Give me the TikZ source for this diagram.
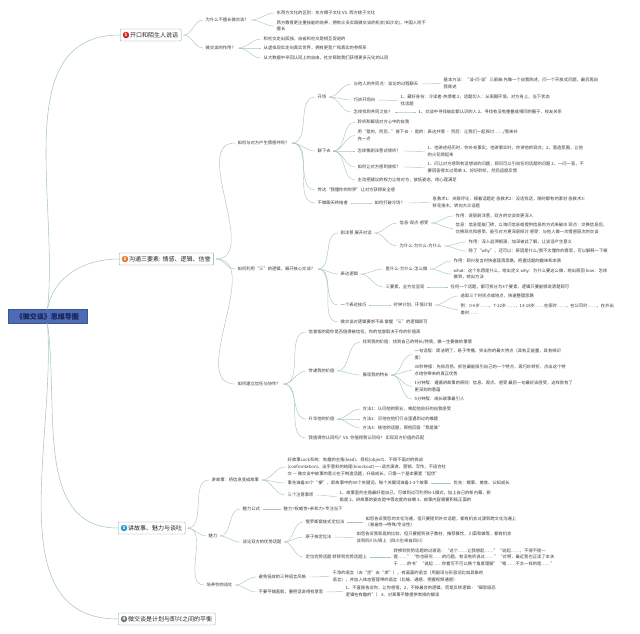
\documentclass[tikz,border=0pt]{standalone}
\usepackage{fontspec}
\setmainfont{Noto Sans CJK SC}
\usepackage{tikz}
\definecolor{rootfill}{RGB}{77,108,181}
\definecolor{roottext}{RGB}{22,34,80}
\definecolor{boxline}{RGB}{118,166,158}
\definecolor{linkc}{RGB}{166,198,196}
\definecolor{txt}{RGB}{55,55,55}
\definecolor{numred}{RGB}{212,38,28}
\definecolor{numorange}{RGB}{234,120,38}
\definecolor{numblue}{RGB}{38,150,214}
\definecolor{numgray}{RGB}{118,118,118}

\begin{document}
\begin{tikzpicture}[x=1pt, y=1pt,
		root/.style={rectangle, draw=rootfill!80!black, fill=rootfill, text=roottext, minimum width=79pt, minimum height=14pt, inner sep=1pt, font=\fontsize{7}{7}\selectfont\bfseries},
		branch/.style={rectangle, draw=boxline, fill=white, rounded corners=1pt, anchor=west, minimum height=12pt, inner xsep=3pt, inner ysep=1pt, text=black!85, font=\fontsize{6}{6}\selectfont},
		numdot/.style={circle, inner sep=0pt, minimum size=6.5pt, text=white, font=\fontsize{4.5}{4.5}\selectfont\bfseries},
		topic/.style={anchor=west, align=left, inner sep=0.5pt, text=txt, font=\fontsize{4.3}{6.6}\selectfont},
		lk/.style={draw=linkc, line width=0.45pt, out=0, in=180, shorten <=2pt, shorten >=2pt},
		trunk/.style={draw=linkc, line width=0.55pt}]
		\useasboundingbox (0,0) rectangle (640,-633);

		% centre and main branches
		\node[root] (r) at (47.5,-316.5) {《微交谈》思维导图};
		\node[branch] (b1) at (120,-35) {\hspace{7pt}开口和陌生人说话};
		\node[branch] (b2) at (119,-259) {\hspace{7pt}沟通三要素: 情感、逻辑、信誉};
		\node[branch] (b3) at (118,-528) {\hspace{7pt}讲故事、魅力与谈吐};
		\node[branch] (b4) at (118,-619) {\hspace{7pt}微交谈是计划与即兴之间的平衡};
		\node[numdot, fill=numred] at ([xshift=6pt]b1.west) {1};
		\node[numdot, fill=numorange] at ([xshift=6pt]b2.west) {2};
		\node[numdot, fill=numblue] at ([xshift=6pt]b3.west) {3};
		\node[numdot, fill=numgray] at ([xshift=6pt]b4.west) {4};

		% 1
		\node[topic] (11) at (205,-20) {为什么不擅长微交谈？};
		\node[topic] (111) at (276,-13) {东西方文化的区别：东方椰子文化 VS. 西方桃子文化};
		\node[topic] (112) at (276,-26) {西方教育更注重技能的培养，拥有众多实践微交谈的机会(如沙龙)，中国人则不\\擅长};
		\node[topic] (12) at (205,-48) {微交谈的作用？};
		\node[topic] (121) at (263,-39) {和社交走出孤独，自省和社交是相互促进的};
		\node[topic] (122) at (263,-48) {从虚拟现实走向真实世界，拥有更宽广和真实的参照系};
		\node[topic] (123) at (263,-58) {从大数据中寻回认同上的自由，社交帮助我们获得更多元化的认同};

		% 2
		\node[topic] (21) at (237,-143) {如何与对方产生情感共鸣？};
		\node[topic] (211) at (317,-97) {开场};
		\node[topic] (2111) at (353,-84) {与他人的共同点：谈论的过程聊天};
		\node[topic] (21111) at (443,-83.5) {基本方法：“谈-问-谈”三部曲 先做一个自我陈述，问一个开放式问题，最后再自\\我陈述};
		\node[topic] (2112) at (353,-100) {巧妙开场白};
		\node[topic] (21121) at (400,-100.5) {1、藏好身份：冷读者-热情者 2、话题切入：从周围环境、对方身上、当下状态\\找话题};
		\node[topic] (2113) at (353,-112) {怎样找到共同之处？};
		\node[topic] (21131) at (418,-112) {1、交谈中寻找彼此都认识的人 2、寻找有没有重叠或相同的圈子、校友关系};
		\node[topic] (212) at (317,-151) {聊下去};
		\node[topic] (2121) at (357,-122) {聆听和解读对方心中的自我};
		\node[topic] (2122) at (357,-135.5) {用“是的，然后...”接下去 · 是的：表达共情 · 然后：让我们一起探讨……/我来补\\充一点};
		\node[topic] (2123) at (357,-151) {怎样像剥洋葱式倾听？};
		\node[topic] (21231) at (427,-151.5) {1、他讲述经历时，你补充事实；他讲事实时，你讲他的观点；2、营造氛围，让他\\的火花燃起来};
		\node[topic] (2124) at (357,-167) {如何让对方感到放松？};
		\node[topic] (21241) at (427,-167.5) {1、问让对方感到有话想说的问题，即问可以引向任何话题的问题 2、一问一答，不\\要回答得太过简单 3、好好聆听，然后适度反馈};
		\node[topic] (2125) at (357,-180) {主动把建议的权力让给对方，放低姿态，给心理满足};
		\node[topic] (213) at (317,-190) {传达“我懂你的世界”让对方获得安全感};
		\node[topic] (214) at (317,-203) {不做聊天终结者};
		\node[topic] (2141) at (374,-203) {如何打破冷场？};
		\node[topic] (21411) at (432,-202.5) {急救术1：关联评论，顺着话题走 急救术2：没话找话，随时都有的素材 急救术3：\\移花接木，转向大众话题};

		\node[topic] (22) at (237,-269) {如何利用“三”的逻辑，展开核心交谈？};
		\node[topic] (221) at (340,-233) {剥洋葱 展开对话};
		\node[topic] (2211) at (399,-223) {信息-观点-感受};
		\node[topic] (22111) at (455,-216) {作用：逐层剥洋葱，双方的交谈会更深入};
		\node[topic] (22112) at (455,-228.5) {信息：信息是敲门砖，以询问信息或提供信息的方式来破冰 观点：交换信息后，\\交换观点和感受，能引对方更深层探讨 感受：与他人做一次情感层次的交谈};
		\node[topic] (2212) at (399,-246) {为什么-为什么-为什么};
		\node[topic] (22121) at (468,-242) {作用：深入追溯根源，加深彼此了解，让谈话产生意义};
		\node[topic] (22122) at (468,-251) {除了“why”，还可以：原因是什么/我不太懂你的意思，可以解释一下嘛};
		\node[topic] (222) at (340,-274) {表达逻辑};
		\node[topic] (2221) at (385,-269) {是什么-为什么-怎么做};
		\node[topic] (22211) at (453,-261) {作用：即兴发言时快速理清思路，把握话题的趣味和本质};
		\node[topic] (22212) at (453,-274) {what：这个东西是什么，给出定义 why：为什么要这么做，给出原因 how：怎样\\做到，给出方法};
		\node[topic] (2222) at (385,-287) {三要素，全方位呈现};
		\node[topic] (22221) at (450,-287) {任何一个话题，都可拆分为3个要素，逻辑只要能够说清楚即可};
		\node[topic] (223) at (340,-305) {一个表达技巧};
		\node[topic] (2231) at (393,-305) {时钟计划，环境计划};
		\node[topic] (22311) at (460,-296) {选取三个时间点或地点，快速整理思路};
		\node[topic] (22312) at (460,-309.5) {例：0-6岁……，7-12岁……，13-18岁……在家时……，在公司时……，在外出\\差时……};
		\node[topic] (224) at (340,-322) {微交谈对逻辑要求不高 掌握“三”的逻辑即可};

		\node[topic] (23) at (237,-384) {如何建立信任与协作？};
		\node[topic] (231) at (308,-332) {信誉指的是你是否值得被信任，你的信誉取决于你的价值观};
		\node[topic] (232) at (308,-371) {传递我的价值};
		\node[topic] (2321) at (362,-342) {找到我的价值：找到自己的特长/特质，做一生要做的事情};
		\node[topic] (2322) at (362,-375) {展现我的特长};
		\node[topic] (23221) at (414,-354.5) {一句话版：简洁明了，易于传播，突出你的最大特点（具有正能量，具有辨识\\度）};
		\node[topic] (23222) at (414,-370.5) {30秒钟版：先抑后扬，抓住最能吸引自己的一个特点，再巧妙转折，点出这个特\\点给你带来的真正优势};
		\node[topic] (23223) at (414,-386.5) {1分钟版：遵循讲故事的原则：信息、观点、感受 最后一句最好谈感受，这样就有了\\更深刻的意蕴};
		\node[topic] (23224) at (414,-399) {5分钟版：成长故事最引人};
		\node[topic] (233) at (308,-419) {升华他的价值};
		\node[topic] (2331) at (362,-409) {方法1：认同他的职业，唤起他良好的自我感受};
		\node[topic] (2332) at (362,-419) {方法2：问他在他们行业里遇到过的难题};
		\node[topic] (2333) at (362,-428) {方法3：接他的话题，帮他回答“我是谁”};
		\node[topic] (234) at (308,-438) {我值得你认同吗？VS. 你值得我认同吗？ 实现双方价值的匹配};

		% 3
		\node[topic] (31) at (211,-480) {讲故事：将信息变成故事};
		\node[topic] (311) at (287,-467) {好故事Lock系统：有趣的主角(lead)、目标(object)、不得不面对的挑战\\(confrontation)、出乎意料的结尾(knockout)——适合演讲、营销、写作，不适合社\\交 — 微交谈中故事的意义在于制造话题，升级成长，只需一个基本要素“起伏”};
		\node[topic] (312) at (287,-483) {事先准备30个“梗”，即故事中的30个关键词，每个关键词准备1-3个故事};
		\node[topic] (3121) at (453,-483) {优先：糗事、美食、认知成长};
		\node[topic] (313) at (287,-495) {三个注意事项};
		\node[topic] (3131) at (339,-496.5) {1、故事里的主角最好是自己，可做到过可利用N-1模式，加上自己的新内幕，新\\角度 2、讲故事的姿态是中等态度的自嘲 3、故事内容需要积极正面的};
		\node[topic] (32) at (208,-536) {魅力};
		\node[topic] (321) at (242,-509) {魅力公式};
		\node[topic] (3211) at (283,-509) {魅力=权威性+亲和力+专注当下};
		\node[topic] (322) at (242,-542) {谈论双方的优势话题};
		\node[topic] (3221) at (305,-522) {俄罗斯套娃式定位法};
		\node[topic] (32211) at (365,-522) {如您告诉我您的文化沟通，但只要提到外交话题，都有机会过渡到跨文化沟通上\\（普遍性→特殊/专业性）};
		\node[topic] (3222) at (305,-537) {原子核定位法};
		\node[topic] (32221) at (356,-537.5) {如您告诉我家庭的比较，但只要提到孩子教材，推荐餐饮，川菜和做等，都有机会\\谈到四川火锅上（四川也来自四川）};
		\node[topic] (3223) at (305,-557) {定位优势话题 转移到优势话题上};
		\node[topic] (32231) at (393,-557) {转换到优势话题的过渡语：“这个……让我想起……”“说起……，不得不提一\\提……”“你也研究……的问题，有没有听说过……”“对啊，最近我也正读了本关\\于……的书”“说起……你看可不可以换个角度理解”“嗯……不太一样的是……”};
		\node[topic] (33) at (206,-585) {培养你的谈吐};
		\node[topic] (331) at (258,-577) {避免低效的三种语言风格};
		\node[topic] (3311) at (332,-576.5) {干净的语言（去“定”去“求”），有画面的语言（用副词与形容词比如具象的\\语言），并加入体态管理带的语言（比喻、通感、把握视频通感）};
		\node[topic] (332) at (258,-592) {不要平铺直叙，要把话说得有意思};
		\node[topic] (3321) at (345,-591.5) {1、不直接告诉你，让你感悟；2、不按最合的逻辑，而是反转逻辑 - “细思极恐\\逻辑在有趣的”） 3、对某事平静提供常规的解读};

		% trunk lines
		\path (r.north) edge[trunk, out=84, in=180] (b1.west);
		\path (r.north) edge[trunk, out=80, in=180] (b2.west);
		\path (r.south) edge[trunk, out=-82, in=180] (b3.west);
		\path (r.south) edge[trunk, out=-86, in=180] (b4.west);

		\path (b1.east) edge[lk] (11.west);
		\path (b1.east) edge[lk] (12.west);
		\path (11.east) edge[lk] (111.west);
		\path (11.east) edge[lk] (112.west);
		\path (12.east) edge[lk] (121.west);
		\path (12.east) edge[lk] (122.west);
		\path (12.east) edge[lk] (123.west);

		\path (b2.east) edge[lk] (21.west);
		\path (b2.east) edge[lk] (22.west);
		\path (b2.east) edge[lk] (23.west);
		\path (21.east) edge[lk] (211.west);
		\path (21.east) edge[lk] (212.west);
		\path (21.east) edge[lk] (213.west);
		\path (21.east) edge[lk] (214.west);
		\path (211.east) edge[lk] (2111.west);
		\path (211.east) edge[lk] (2112.west);
		\path (211.east) edge[lk] (2113.west);
		\path (2111.east) edge[lk] (21111.west);
		\path (2112.east) edge[lk] (21121.west);
		\path (2113.east) edge[lk] (21131.west);
		\path (212.east) edge[lk] (2121.west);
		\path (212.east) edge[lk] (2122.west);
		\path (212.east) edge[lk] (2123.west);
		\path (212.east) edge[lk] (2124.west);
		\path (212.east) edge[lk] (2125.west);
		\path (2123.east) edge[lk] (21231.west);
		\path (2124.east) edge[lk] (21241.west);
		\path (214.east) edge[lk] (2141.west);
		\path (2141.east) edge[lk] (21411.west);

		\path (22.east) edge[lk] (221.west);
		\path (22.east) edge[lk] (222.west);
		\path (22.east) edge[lk] (223.west);
		\path (22.east) edge[lk] (224.west);
		\path (221.east) edge[lk] (2211.west);
		\path (221.east) edge[lk] (2212.west);
		\path (2211.east) edge[lk] (22111.west);
		\path (2211.east) edge[lk] (22112.west);
		\path (2212.east) edge[lk] (22121.west);
		\path (2212.east) edge[lk] (22122.west);
		\path (222.east) edge[lk] (2221.west);
		\path (222.east) edge[lk] (2222.west);
		\path (2221.east) edge[lk] (22211.west);
		\path (2221.east) edge[lk] (22212.west);
		\path (2222.east) edge[lk] (22221.west);
		\path (223.east) edge[lk] (2231.west);
		\path (2231.east) edge[lk] (22311.west);
		\path (2231.east) edge[lk] (22312.west);

		\path (23.east) edge[lk] (231.west);
		\path (23.east) edge[lk] (232.west);
		\path (23.east) edge[lk] (233.west);
		\path (23.east) edge[lk] (234.west);
		\path (232.east) edge[lk] (2321.west);
		\path (232.east) edge[lk] (2322.west);
		\path (2322.east) edge[lk] (23221.west);
		\path (2322.east) edge[lk] (23222.west);
		\path (2322.east) edge[lk] (23223.west);
		\path (2322.east) edge[lk] (23224.west);
		\path (233.east) edge[lk] (2331.west);
		\path (233.east) edge[lk] (2332.west);
		\path (233.east) edge[lk] (2333.west);

		\path (b3.east) edge[lk] (31.west);
		\path (b3.east) edge[lk] (32.west);
		\path (b3.east) edge[lk] (33.west);
		\path (31.east) edge[lk] (311.west);
		\path (31.east) edge[lk] (312.west);
		\path (31.east) edge[lk] (313.west);
		\path (312.east) edge[lk] (3121.west);
		\path (313.east) edge[lk] (3131.west);
		\path (32.east) edge[lk] (321.west);
		\path (32.east) edge[lk] (322.west);
		\path (321.east) edge[lk] (3211.west);
		\path (322.east) edge[lk] (3221.west);
		\path (322.east) edge[lk] (3222.west);
		\path (322.east) edge[lk] (3223.west);
		\path (3221.east) edge[lk] (32211.west);
		\path (3222.east) edge[lk] (32221.west);
		\path (3223.east) edge[lk] (32231.west);
		\path (33.east) edge[lk] (331.west);
		\path (33.east) edge[lk] (332.west);
		\path (331.east) edge[lk] (3311.west);
		\path (332.east) edge[lk] (3321.west);

	\end{tikzpicture}
\end{document}
